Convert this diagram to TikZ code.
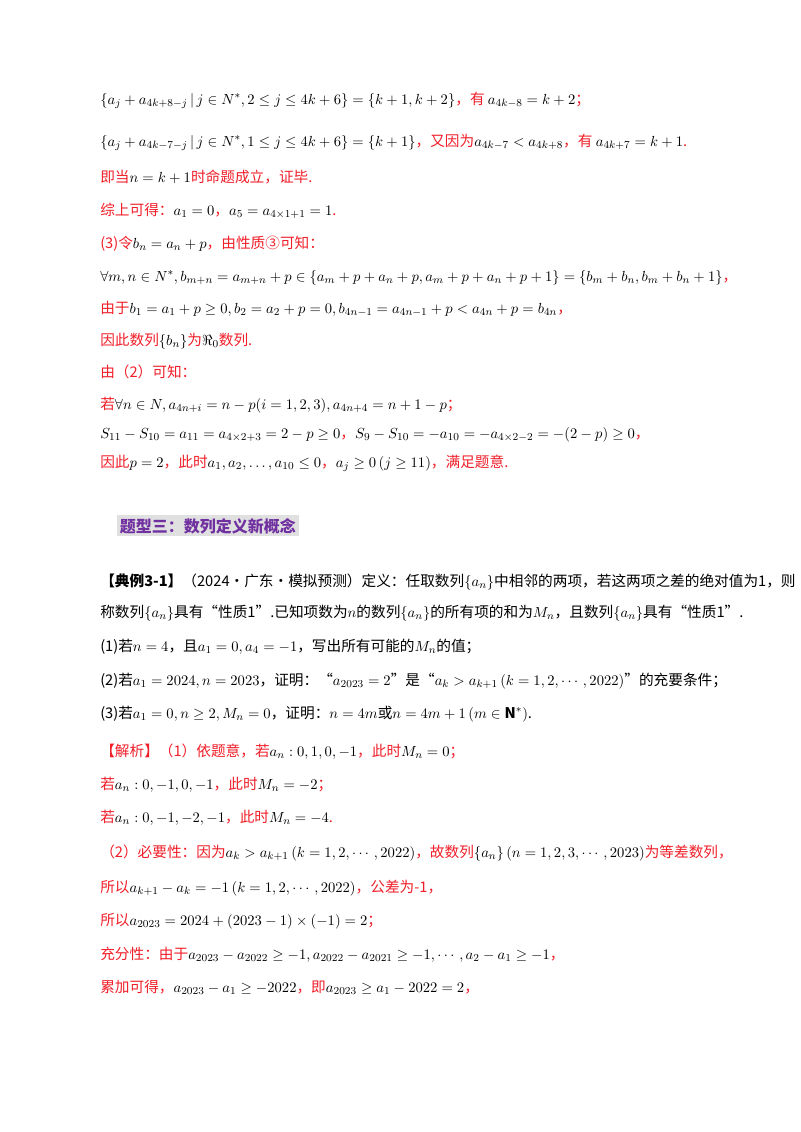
\documentclass[tikz,border=0pt]{standalone}
\usepackage{fontspec}
\usepackage{amsmath,amssymb}
\setmainfont{Noto Sans CJK SC}
\definecolor{rd}{RGB}{240,30,40}
\definecolor{pu}{RGB}{112,48,160}
\everymath{\color{black}}
\tikzset{ln/.style={anchor=base west,inner sep=0pt,font=\fontsize{11}{13}\selectfont}}
\newcommand{\R}{\color{rd}}
\begin{document}
\begin{tikzpicture}[x=0.75pt,y=-0.75pt]
\useasboundingbox (0,0) rectangle (800,1132);
\node[ln] (l1) at (100,104) {$\left\{a_j+a_{4k+8-j}\,|\,j\in N^*,2\le j\le 4k+6\right\}=\{k+1,k+2\}$\R，有 $a_{4k-8}=k+2$；};
\node[ln] (l2) at (100,146) {$\left\{a_j+a_{4k-7-j}\,|\,j\in N^*,1\le j\le 4k+6\right\}=\{k+1\}$\R，又因为$a_{4k-7}<a_{4k+8}$，有 $a_{4k+7}=k+1$.};
\node[ln] (l3) at (100,182) {\R 即当$n=k+1$时命题成立，证毕.};
\node[ln] (l4) at (100,215) {\R 综上可得：$a_1=0$，$a_5=a_{4\times1+1}=1$.};
\node[ln] (l5) at (100,248) {\R (3)令$b_n=a_n+p$，由性质③可知：};
\node[ln] (l6) at (100,281) {$\forall m,n\in N^*,b_{m+n}=a_{m+n}+p\in\left\{a_m+p+a_n+p,a_m+p+a_n+p+1\right\}=\left\{b_m+b_n,b_m+b_n+1\right\}$\R，};
\node[ln] (l7) at (100,313) {\R 由于$b_1=a_1+p\ge0,b_2=a_2+p=0,b_{4n-1}=a_{4n-1}+p<a_{4n}+p=b_{4n}$，};
\node[ln] (l8) at (100,345) {\R 因此数列$\left\{b_n\right\}$为$\Re_0$数列.};
\node[ln] (l9) at (100,377) {\R 由（2）可知：};
\node[ln] (l10) at (100,409) {\R 若$\forall n\in N,a_{4n+i}=n-p(i=1,2,3),a_{4n+4}=n+1-p$；};
\node[ln] (l11) at (100,438) {$S_{11}-S_{10}=a_{11}=a_{4\times2+3}=2-p\ge0$\R，$S_9-S_{10}=-a_{10}=-a_{4\times2-2}=-(2-p)\ge0$，};
\node[ln] (l12) at (100,467) {\R 因此$p=2$，此时$a_1,a_2,\dots,a_{10}\le0$，$a_j\ge0\left(j\ge11\right)$，满足题意.};
\node[ln,fill=black!12,inner sep=2pt,text=pu,font=\fontsize{12}{14}\selectfont\bfseries] (hd) at (117,532) {题型三：数列定义新概念};
\node[ln] (p1) at (100,586) {\textbf{【典例3-1】}（2024·广东·模拟预测）定义：任取数列$\{a_n\}$中相邻的两项，若这两项之差的绝对值为1，则};
\node[ln] (p2) at (100,617) {称数列$\{a_n\}$具有“性质1”.已知项数为$n$的数列$\{a_n\}$的所有项的和为$M_n$，且数列$\{a_n\}$具有“性质1”.};
\node[ln] (p3) at (100,651) {(1)若$n=4$，且$a_1=0,a_4=-1$，写出所有可能的$M_n$的值；};
\node[ln] (p4) at (100,685) {(2)若$a_1=2024,n=2023$，证明：“$a_{2023}=2$”是“$a_k>a_{k+1}\left(k=1,2,\cdots,2022\right)$”的充要条件；};
\node[ln] (p5) at (100,718) {(3)若$a_1=0,n\ge2,M_n=0$，证明：$n=4m$或$n=4m+1\left(m\in\mathbf{N}^*\right)$.};
\node[ln] (s1) at (100,756) {\R 【解析】（1）依题意，若$a_n:0,1,0,-1$，此时$M_n=0$；};
\node[ln] (s2) at (100,789) {\R 若$a_n:0,-1,0,-1$，此时$M_n=-2$；};
\node[ln] (s3) at (100,822) {\R 若$a_n:0,-1,-2,-1$，此时$M_n=-4$.};
\node[ln] (s4) at (100,857) {\R （2）必要性：因为$a_k>a_{k+1}\left(k=1,2,\cdots,2022\right)$，故数列$\{a_n\}\left(n=1,2,3,\cdots,2023\right)$为等差数列，};
\node[ln] (s5) at (100,892) {\R 所以$a_{k+1}-a_k=-1\left(k=1,2,\cdots,2022\right)$，公差为-1，};
\node[ln] (s6) at (100,925) {\R 所以$a_{2023}=2024+\left(2023-1\right)\times\left(-1\right)=2$；};
\node[ln] (s7) at (100,959) {\R 充分性：由于$a_{2023}-a_{2022}\ge-1,a_{2022}-a_{2021}\ge-1,\cdots,a_2-a_1\ge-1$，};
\node[ln] (s8) at (100,992) {\R 累加可得，$a_{2023}-a_1\ge-2022$，即$a_{2023}\ge a_1-2022=2$，};
\end{tikzpicture}
\end{document}
